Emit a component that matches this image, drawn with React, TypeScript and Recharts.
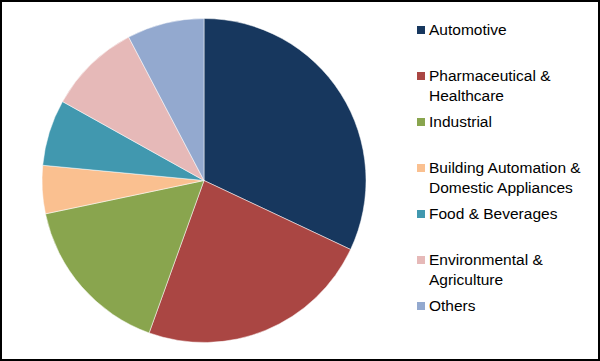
import { Legend, Pie, PieChart, Cell } from "recharts";

const CATEGORIES = [
  "Automotive",
  "Pharmaceutical & Healthcare",
  "Industrial",
  "Building Automation & Domestic Appliances",
  "Food & Beverages",
  "Environmental & Agriculture",
  "Others",
];
// legend text split into lines as drawn
const LEGEND_LINES = [
  ["Automotive"],
  ["Pharmaceutical &", "Healthcare"],
  ["Industrial"],
  ["Building Automation &", "Domestic Appliances"],
  ["Food & Beverages"],
  ["Environmental &", "Agriculture"],
  ["Others"],
];
const SHARES = [32, 23.5, 16.2, 4.8, 6.6, 9.2, 7.7];
const COLORS = ["#17375E", "#AA4643", "#89A54E", "#FAC090", "#4198AF", "#E6B9B8", "#93A9CF"];

const FONT = '"Liberation Sans", Arial, sans-serif';

const data = CATEGORIES.map((name, i) => ({ name, value: SHARES[i] }));

function LegendBox() {
  return (
    <div style={{ fontFamily: FONT, fontSize: 15.5, color: "#000" }}>
      {LEGEND_LINES.map((lines, i) => (
        <div key={i} style={{ height: 46, position: "relative" }}>
          <span
            style={{
              position: "absolute",
              left: 0,
              top: 6,
              width: 8,
              height: 8,
              background: COLORS[i],
            }}
          />
          <div style={{ position: "absolute", left: 12, top: 0, lineHeight: "20px", whiteSpace: "nowrap" }}>
            {lines.map((l, j) => (
              <div key={j}>{l}</div>
            ))}
          </div>
        </div>
      ))}
    </div>
  );
}

export default function App() {
  return (
    <>
      <style>{`body{margin:0}`}</style>
      <div style={{ width: 596, height: 357, border: "2px solid #000", background: "#fff" }}>
        <PieChart width={596} height={357} margin={{ top: 0, right: 0, bottom: 0, left: 0 }}>
          <Pie
            data={data}
            dataKey="value"
            nameKey="name"
            cx={202}
            cy={178.5}
            outerRadius={162}
            startAngle={90}
            endAngle={-270}
            stroke="#fff"
            strokeWidth={0.5}
            isAnimationActive={false}
          >
            {data.map((d, i) => (
              <Cell key={d.name} fill={COLORS[i]} />
            ))}
          </Pie>
          <Legend
            layout="vertical"
            verticalAlign="top"
            align="right"
            wrapperStyle={{ left: 415, top: 18, width: 180 }}
            content={() => <LegendBox />}
          />
        </PieChart>
      </div>
    </>
  );
}
